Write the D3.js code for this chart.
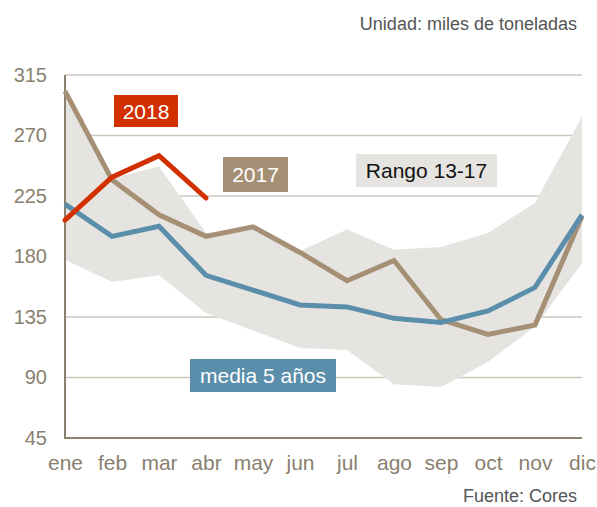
<!DOCTYPE html>
<html><head><meta charset="utf-8">
<script src="https://cdn.jsdelivr.net/npm/d3@7"></script>
<style>body{margin:0;background:#fff;}svg{display:block;font-family:"Liberation Sans",Arial,sans-serif;}</style>
</head><body><svg id="c" width="597" height="507"></svg>
<script>
const months = ["ene","feb","mar","abr","may","jun","jul","ago","sep","oct","nov","dic"];
const yTicks = [45,90,135,180,225,270,315];
const s2018 = [207,239,255,223.5];
const s2017 = [303,237,211,195,202,183,162,177,133,122,129,210];
const media5 = [219,195,202.5,166,155,144,142.5,134,131,139.5,157,211];
const rangoMax = [303,238,247,197.5,202,184,200,185,187,197.5,220,284];
const rangoMin = [177.5,161,166,138,125,112,110.5,85,83,101.5,128,175];

const svg = d3.select("#c");
const x = d3.scalePoint().domain(months).range([65,582]);
const y = d3.scaleLinear().domain([45,315]).range([438,75]);
const axisCol = "#8a806f";

// grid
svg.append("g").selectAll("line").data(yTicks.filter(d=>d>45)).join("line")
  .attr("x1",65).attr("x2",582).attr("y1",d=>y(d)).attr("y2",d=>y(d))
  .attr("stroke","#cdc7bc").attr("stroke-width",1.5);

// band
const idx = d3.range(months.length);
svg.append("path").datum(idx)
  .attr("d", d3.area().x(i=>x(months[i])).y0(i=>y(rangoMin[i])).y1(i=>y(rangoMax[i])))
  .attr("fill","#e6e4e0");

// axes
const ya = svg.append("g").attr("transform","translate(65,0)")
  .call(d3.axisLeft(y).tickValues(yTicks).tickSize(0).tickPadding(18));
ya.select(".domain").remove();
ya.selectAll("text").attr("font-size",20).attr("fill",axisCol).attr("font-family","Liberation Sans, Arial, sans-serif");
const xa = svg.append("g").attr("transform","translate(0,438)")
  .call(d3.axisBottom(x).tickSize(0).tickPadding(17));
xa.select(".domain").remove();
xa.selectAll("text").attr("font-size",21).attr("fill",axisCol).attr("font-family","Liberation Sans, Arial, sans-serif");
svg.append("line").attr("x1",65).attr("x2",65).attr("y1",y(315)).attr("y2",y(45)+1).attr("stroke",axisCol).attr("stroke-width",2);
svg.append("line").attr("x1",64).attr("x2",582).attr("y1",y(45)).attr("y2",y(45)).attr("stroke",axisCol).attr("stroke-width",2);

// lines
const line = vals => d3.line().x((d,i)=>x(months[i])).y(d=>y(d))(vals);
svg.append("path").attr("d",line(s2017)).attr("fill","none").attr("stroke","#a58f75").attr("stroke-width",5).attr("stroke-linejoin","miter");
svg.append("path").attr("d",line(media5)).attr("fill","none").attr("stroke","#5b8eaa").attr("stroke-width",5).attr("stroke-linejoin","miter");
svg.append("path").attr("d",line(s2018)).attr("fill","none").attr("stroke","#d23000").attr("stroke-width",5).attr("stroke-linejoin","miter").attr("stroke-linecap","round");

// labels
function label(bx,by,w,h,fill,txt,col){
  svg.append("rect").attr("x",bx).attr("y",by).attr("width",w).attr("height",h).attr("fill",fill);
  svg.append("text").attr("x",bx+w/2).attr("y",by+h/2).attr("dy","0.36em").attr("text-anchor","middle")
    .attr("font-size",21).attr("fill",col).text(txt);
}
label(114,95,64,32,"#d23000","2018","#fff");
label(223,157,65,35,"#a58f75","2017","#fff");
label(356,154,141,33,"#e6e4e0","Rango 13-17","#111");
label(190,359,146,33,"#5b8eaa","media 5 años","#fff");

svg.append("text").attr("x",577).attr("y",30).attr("text-anchor","end").attr("font-size",18).attr("fill","#555").text("Unidad: miles de toneladas");
svg.append("text").attr("x",577).attr("y",502).attr("text-anchor","end").attr("font-size",18).attr("fill","#555").text("Fuente: Cores");
</script></body></html>
